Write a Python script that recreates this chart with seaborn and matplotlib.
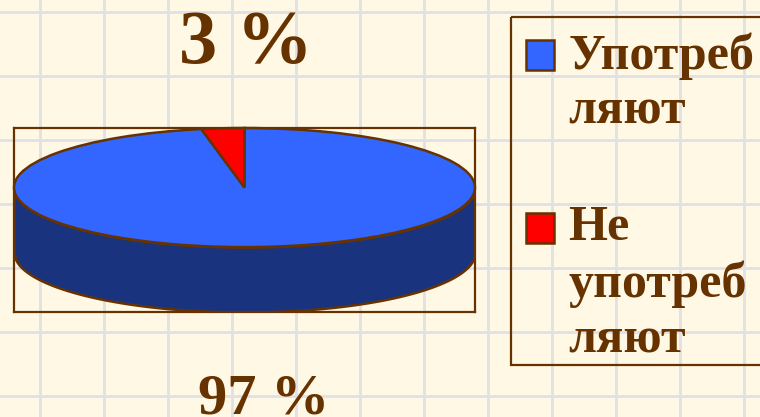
import numpy as np
import matplotlib
matplotlib.use("Agg")
import matplotlib.pyplot as plt
import seaborn as sns
from matplotlib.legend_handler import HandlerPatch
from matplotlib.patches import Rectangle

categories = ["Употреб\nляют", "Не\nупотреб\nляют"]
values = [97, 3]
colors = ["#3366FF", "#FF0000"]

BROWN = "#663300"
PAPER = "#FFF8E5"
GRID = "#E0E0E5"
SIDE = "#19337F"
WIDTH, HEIGHT = 760, 417
DEPTH = 1.09
LEGEND_FONT = 36
LINE_PITCH = 39.6  # points between wrapped legend lines

sns.set_theme(style="whitegrid", rc={
    "figure.facecolor": PAPER,
    "axes.facecolor": PAPER,
    "grid.color": GRID,
    "grid.linewidth": 2.0,
})
plt.rcParams["font.family"] = ["Liberation Serif", "DejaVu Serif"]
plt.rcParams["font.weight"] = "bold"

fig = plt.figure(figsize=(WIDTH / 100, HEIGHT / 100), dpi=100)

# squared paper behind everything
back = fig.add_axes([0, 0, 1, 1], zorder=0)
back.set_xlim(0, WIDTH)
back.set_ylim(HEIGHT, 0)
back.set_xticks(np.arange(40, WIDTH, 64))
back.set_yticks(np.arange(12, HEIGHT, 64))
back.tick_params(labelbottom=False, labelleft=False, length=0)
sns.despine(ax=back, left=True, bottom=True)

# legend box runs off the right edge, and its bottom gap is tighter than legend padding allows
back.add_patch(Rectangle((511, 17), 270, 348, fill=False, edgecolor=BROWN, linewidth=1.6, zorder=3))

# pie area, box from x 14-475 and y 128-312 in pixels
ax = fig.add_axes([14 / WIDTH, 1 - 312 / HEIGHT, 461 / WIDTH, 184 / HEIGHT], zorder=1)
ax.set_facecolor("none")

xs = np.linspace(-1, 1, 300)
rim = -np.sqrt(1 - xs ** 2)
ax.fill_between(xs, rim, rim - DEPTH, color=SIDE, edgecolor=BROWN, linewidth=1.8)

wedges, _ = ax.pie(
    values,
    colors=colors,
    startangle=90 + values[1] * 3.6,
    wedgeprops={"edgecolor": BROWN, "linewidth": 1.8},
)
ax.set_aspect("auto")
ax.set_xlim(-1, 1)
ax.set_ylim(-1 - DEPTH, 1)
ax.set_frame_on(True)
ax.grid(False)
for spine in ax.spines.values():
    spine.set_color(BROWN)
    spine.set_linewidth(1.6)


def raised_handle(n_lines):
    # the marker sits next to the first line of a wrapped label
    def make(legend, orig_handle, xdescent, ydescent, width, height, fontsize):
        shift = (n_lines - 1) / 2 * LINE_PITCH + 0.7
        return Rectangle((-xdescent, -ydescent + shift), width, height)
    return HandlerPatch(patch_func=make)


legend = fig.legend(
    wedges,
    categories,
    loc="upper left",
    bbox_to_anchor=(511 / WIDTH, 1 - 17 / HEIGHT),
    bbox_transform=fig.transFigure,
    fontsize=LEGEND_FONT,
    labelcolor=BROWN,
    frameon=False,
    borderaxespad=0,
    borderpad=0.3,
    handlelength=0.55,
    handleheight=0.55,
    handletextpad=0.3,
    labelspacing=1.4,
    handler_map={
        wedges[0]: raised_handle(2),
        wedges[1]: raised_handle(3),
    },
)
legend.set_zorder(3)
for text in legend.get_texts():
    text.set_linespacing(1.27)

fig.text(246 / WIDTH, 1 - 63 / HEIGHT, f"{values[1]} %", color=BROWN, fontsize=55,
         ha="center", va="baseline")
fig.text(264 / WIDTH, 1 - 413.5 / HEIGHT, f"{values[0]} %", color=BROWN, fontsize=42,
         ha="center", va="baseline")

fig.savefig("out.png", dpi=100, facecolor=PAPER)
plt.close(fig)
